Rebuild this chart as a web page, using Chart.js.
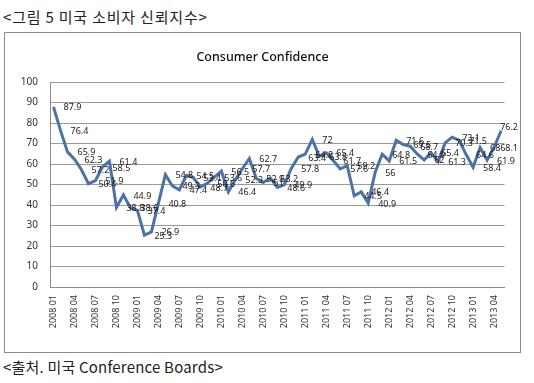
<!DOCTYPE html>
<html>
<head>
<meta charset="utf-8">
<script src="https://cdn.jsdelivr.net/npm/chart.js@4/dist/chart.umd.min.js"></script>
<style>
    body { margin: 0; background: #fff; width: 534px; height: 383px; position: relative; overflow: hidden; }
    .caption { position: absolute; left: 3px; font-family: "Noto Sans CJK KR", sans-serif; font-size: 15px; color: #222; white-space: nowrap; line-height: 20px; }
    #head { top: 7px; letter-spacing: 0.8px; }
    #foot { top: 357px; letter-spacing: 0.2px; }
    #frame { position: absolute; left: 4px; top: 32px; width: 517px; height: 321px; border: 1px solid #8c8c8c; box-sizing: border-box; }
    #wrap { position: relative; width: 515px; height: 319px; }
</style>
</head>
<body>
<div class="caption" id="head">&lt;그림 5 미국 소비자 신뢰지수&gt;</div>
<div id="frame"><div id="wrap"><canvas id="ccChart"></canvas></div></div>
<div class="caption" id="foot">&lt;출처. 미국 Conference Boards&gt;</div>
<script>
// Consumer Confidence (monthly, 2008-01 .. 2013-05)
const years = ['2008', '2009', '2010', '2011', '2012', '2013'];
const months = ['01', '02', '03', '04', '05', '06', '07', '08', '09', '10', '11', '12'];
const yTicks = [0, 10, 20, 30, 40, 50, 60, 70, 80, 90, 100];

const conf2008 = [87.9, 76.4, 65.9, 62.3, 57.2, 50.4, 51.9, 58.5, 61.4, 38.8, 44.9, 38.6];
const conf2009 = [37.4, 25.3, 26.9, 40.8, 54.8, 49.3, 47.4, 54.5, 53.4, 48.7, 50.6, 53.6];
const conf2010 = [56.5, 46.4, 52.3, 57.7, 62.7, 52.9, 51.0, 53.2, 48.6, 49.9, 57.8, 63.4];
const conf2011 = [64.8, 72, 63.8, 65.4, 61.7, 57.6, 59.2, 44.5, 46.4, 40.9, 56, 64.8];
const conf2012 = [61.5, 71.6, 69.5, 68.7, 64.9, 62, 65.4, 61.3, 70.3, 73.1, 71.5, 64.6];
const conf2013 = [58.4, 68, 61.9, 68.1, 76.2];

const values = [].concat(conf2008, conf2009, conf2010, conf2011, conf2012, conf2013);

const categories = [];
years.forEach(y => months.forEach(m => categories.push(y + ' ' + m)));
categories.length = values.length;

// value labels to the right of each point (kept inside the frame)
const valueLabels = {
    id: 'valueLabels',
    afterDatasetsDraw(chart) {
        const c = chart.ctx;
        const meta = chart.getDatasetMeta(0);
        c.save();
        c.font = '9px "Noto Sans", sans-serif';
        c.fillStyle = '#222';
        c.textAlign = 'left';
        c.textBaseline = 'middle';
        meta.data.forEach((pt, i) => {
            const txt = String(values[i]);
            const w = c.measureText(txt).width;
            let x = pt.x + 10;
            let y = pt.y + 1;
            if (x + w > chart.width - 2) {
                x = chart.width - 2 - w;
                if (i === values.length - 1) y = pt.y - 3;
            }
            c.fillText(txt, x, y);
        });
        c.restore();
    }
};

const ctx = document.getElementById('ccChart').getContext('2d');
const ccChart = new Chart(ctx, {
    type: 'line',
    data: {
        labels: categories,
        datasets: [{
            label: 'Consumer Confidence',
            data: values,
            borderColor: '#4c73a6',
            borderWidth: 3,
            pointRadius: 0,
            tension: 0,
            fill: false
        }]
    },
    options: {
        responsive: true,
        maintainAspectRatio: false,
        animation: false,
        layout: { padding: 0 },
        plugins: {
            legend: { display: false },
            tooltip: { enabled: false },
            title: {
                display: true,
                text: 'Consumer Confidence',
                color: '#111',
                font: { family: '"Noto Sans", sans-serif', size: 12.5, weight: '500' },
                padding: { top: 17, bottom: 17 }
            }
        },
        scales: {
            x: {
                offset: true,
                grid: { display: false, drawTicks: false },
                border: { display: true, color: '#8c8c8c' },
                ticks: {
                    autoSkip: false,
                    minRotation: 90,
                    maxRotation: 90,
                    padding: 8,
                    color: '#333',
                    font: { family: '"Noto Sans", sans-serif', size: 9 },
                    callback: function(val, i) {
                        return i % 3 === 0 ? categories[i] : '';
                    }
                },
                afterFit: scale => { scale.height = 65; }
            },
            y: {
                min: 0,
                max: 100,
                afterBuildTicks: scale => { scale.ticks = yTicks.map(v => ({ value: v })); },
                grid: { color: '#999', drawTicks: false },
                border: { display: true, color: '#8c8c8c' },
                ticks: {
                    padding: 12,
                    color: '#333',
                    font: { family: '"Noto Sans", sans-serif', size: 10 }
                },
                afterFit: scale => { scale.width = 45; }
            },
            // empty right margin so the title stays centred on the frame
            yRight: {
                position: 'right',
                min: 0,
                max: 100,
                grid: { display: false, drawTicks: false },
                border: { display: false },
                ticks: { display: false },
                afterFit: scale => { scale.width = 14; }
            }
        }
    },
    plugins: [valueLabels]
});
</script>
</body>
</html>
